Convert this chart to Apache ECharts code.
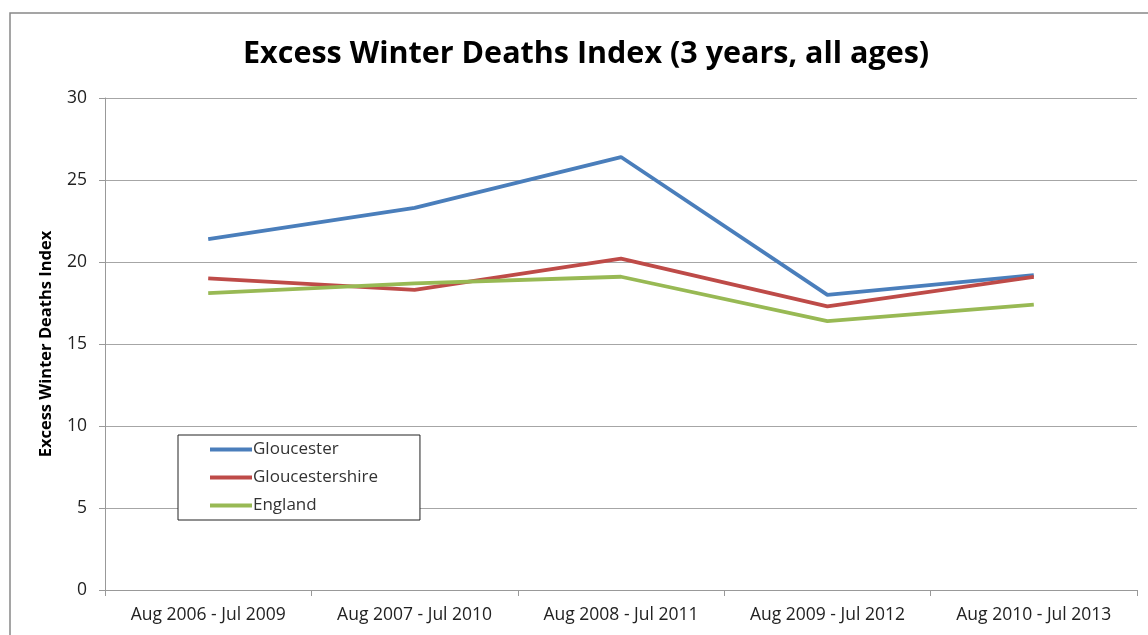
<!DOCTYPE html>
<html><head><meta charset="utf-8">
<script src="https://cdn.jsdelivr.net/npm/echarts@6/dist/echarts.min.js"></script>
<style>html,body{margin:0;padding:0;background:#fff}#c{width:1148px;height:635px}</style>
</head><body><div id="c"></div>
<script>
const categories = ['Aug 2006 - Jul 2009','Aug 2007 - Jul 2010','Aug 2008 - Jul 2011','Aug 2009 - Jul 2012','Aug 2010 - Jul 2013'];
const gloucester = [21.4, 23.3, 26.4, 18.0, 19.2];
const gloucestershire = [19.0, 18.3, 20.2, 17.3, 19.1];
const england = [18.1, 18.7, 19.1, 16.4, 17.4];
const yTicks = [0, 5, 10, 15, 20, 25, 30];

const font = 'Open Sans';
const chart = echarts.init(document.getElementById('c'), null, {renderer:'canvas'});
const mk = (name, data, color) => ({
  name, type:'line', data, symbol:'none', smooth:false,
  lineStyle:{width:3.8, color}, itemStyle:{color}, emphasis:{disabled:true}
});
chart.setOption({
  animation:false,
  backgroundColor:'#fff',
  graphic:[{type:'rect', shape:{x:10,y:13,width:1200,height:700}, style:{fill:'none', stroke:'#888', lineWidth:1.5}, z:-1}],
  title:{text:'Excess Winter Deaths Index (3 years, all ages)', left:238, top:34,
    textStyle:{fontFamily:font, fontWeight:'bold', fontSize:30.5, color:'#000'}},
  grid:{left:105, right:11, top:98, bottom:45, containLabel:false},
  legend:{orient:'vertical', left:178, top:435,
    padding:[6,42,6,32], itemGap:11, itemWidth:42, itemHeight:4,
    borderColor:'#222', borderWidth:1, backgroundColor:'#fff',
    icon:'rect', textStyle:{fontFamily:font, fontSize:17, color:'#333', padding:[0,0,0,-4]},
    data:['Gloucester','Gloucestershire','England']},
  xAxis:{type:'category', data:categories, boundaryGap:true,
    axisLine:{lineStyle:{color:'#999'}}, axisTick:{show:true, interval:0, length:6, lineStyle:{color:'#999'}},
    axisLabel:{interval:0, hideOverlap:false, fontFamily:font, fontSize:17.5, color:'#222', margin:16}},
  yAxis:{type:'value', min:0, max:30, interval:5,
    name:'Excess Winter Deaths Index', nameLocation:'middle', nameGap:50,
    nameTextStyle:{fontFamily:font, fontWeight:'bold', fontSize:16.5, color:'#000'},
    axisLine:{show:true, lineStyle:{color:'#999'}}, axisTick:{show:true, length:6, lineStyle:{color:'#999'}},
    axisLabel:{fontFamily:font, fontSize:17.5, color:'#222', margin:18},
    splitLine:{lineStyle:{color:'#a6a6a6', width:1}}},
  series:[mk('Gloucester', gloucester, '#4a7ebb'), mk('Gloucestershire', gloucestershire, '#be4b48'), mk('England', england, '#98b954')]
});
</script></body></html>
